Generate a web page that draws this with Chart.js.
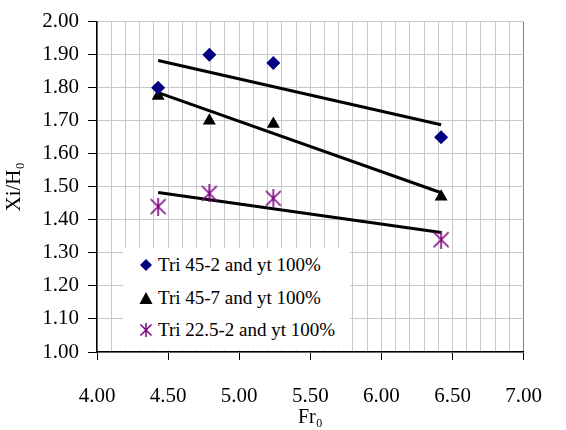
<!DOCTYPE html>
<html>
<head>
<meta charset="utf-8">
<script src="https://cdn.jsdelivr.net/npm/chart.js@4.4.0/dist/chart.umd.min.js"></script>
<style>
  body { margin: 0; background: #fff; }
  #wrap { position: relative; width: 566px; height: 430px; }
  #legendBox {
    position: absolute; left: 123px; top: 248px; width: 227px; height: 102px;
    background: #fff; font-family: 'Liberation Serif', serif;
    font-size: 19px; color: #000;
  }
  .item { position: absolute; left: 0; height: 24px; line-height: 24px; white-space: nowrap; }
  .item svg { position: absolute; left: 16px; top: 5px; }
  .item span { position: absolute; left: 35px; top: 0; }
</style>
</head>
<body>
<div id="wrap">
  <canvas id="chart" width="566" height="430"></canvas>
  <div id="legendBox"></div>
</div>
<script>
// data
const frValues = [4.43, 4.79, 5.24, 6.42];
const tri452 = [1.80, 1.90, 1.875, 1.65];
const tri457 = [1.775, 1.70, 1.69, 1.47];
const tri2252 = [1.44, 1.48, 1.465, 1.34];

// trend line end points
const trendX = [4.43, 6.42];
const trend452 = [1.882, 1.688];
const trend457 = [1.785, 1.482];
const trend2252 = [1.483, 1.362];

const seriesNames = ["Tri 45-2 and yt 100%", "Tri 45-7 and yt 100%", "Tri 22.5-2 and yt 100%"];

const navy = "#000080";
const purple = "#800080";
const font = "'Liberation Serif', serif";

Chart.defaults.font.family = font;
Chart.defaults.color = "#000";

// asterisk marker like the spreadsheet one
function starMarker(size, color) {
  const c = document.createElement("canvas");
  c.width = size; c.height = size;
  const g = c.getContext("2d");
  g.strokeStyle = color;
  g.lineWidth = 1.6;
  const m = 1.5, s = size - 1.5;
  g.beginPath();
  g.moveTo(m, m); g.lineTo(s, s);
  g.moveTo(s, m); g.lineTo(m, s);
  g.moveTo(size / 2, 0); g.lineTo(size / 2, size);
  g.stroke();
  return c;
}

const toPoints = (xs, ys) => xs.map((x, i) => ({ x: x, y: ys[i] }));

function trend(ys) {
  return {
    type: "line",
    data: toPoints(trendX, ys),
    borderColor: "#000",
    borderWidth: 3,
    pointRadius: 0,
    fill: false
  };
}

const ctx = document.getElementById("chart").getContext("2d");

new Chart(ctx, {
  type: "scatter",
  data: {
    datasets: [
      { label: seriesNames[0], data: toPoints(frValues, tri452), pointStyle: "rectRot", pointRadius: 7,
        backgroundColor: navy, borderColor: navy, borderWidth: 0 },
      { label: seriesNames[1], data: toPoints(frValues, tri457), pointStyle: "triangle", pointRadius: 7.5,
        backgroundColor: "#000", borderColor: "#000", borderWidth: 0 },
      { label: seriesNames[2], data: toPoints(frValues, tri2252), pointStyle: starMarker(18, purple), pointRadius: 9 },
      trend(trend452),
      trend(trend457),
      trend(trend2252)
    ]
  },
  options: {
    responsive: false,
    animation: false,
    layout: { padding: { left: 0, right: 23, top: 21, bottom: 0 } },
    plugins: { legend: { display: false }, tooltip: { enabled: false } },
    scales: {
      x: {
        type: "linear",
        min: 4, max: 7,
        afterFit: (s) => { s.height = 78; },
        border: { color: "#000", width: 1.5 },
        grid: {
          color: (c) => (c.index === 30 ? "#808080" : "#c8c8c8"),
          lineWidth: 1,
          tickLength: 8,
          tickColor: (c) => (c.tick && Math.round(c.tick.value * 10) % 5 === 0 ? "#000" : "rgba(0,0,0,0)")
        },
        ticks: {
          stepSize: 0.1,
          autoSkip: false,
          maxRotation: 0,
          padding: 24,
          color: "#000",
          font: { family: font, size: 21 },
          callback: (v) => (Math.round(v * 10) % 5 === 0 ? Number(v).toFixed(2) : "")
        },
        title: {
          display: true,
          text: "Fr₀",
          color: "#000",
          font: { family: font, size: 20 },
          padding: { top: 0, bottom: 0 }
        }
      },
      y: {
        min: 1, max: 2,
        afterFit: (s) => { s.width = 97; },
        border: { color: "#000", width: 1.5 },
        grid: { color: "#c8c8c8", lineWidth: 1, tickLength: 9, tickColor: "#000" },
        ticks: {
          stepSize: 0.1,
          autoSkip: false,
          padding: 9,
          color: "#000",
          font: { family: font, size: 21 },
          callback: (v) => Number(v).toFixed(2)
        },
        title: {
          display: true,
          text: "Xi/H₀",
          color: "#000",
          font: { family: font, size: 21 },
          padding: { top: 2, bottom: 0 }
        }
      }
    }
  }
});

// legend inside the plot, drawn as html
const legendBox = document.getElementById("legendBox");
const marks = [
  '<svg width="14" height="14"><polygon points="7,1 13,7 7,13 1,7" fill="' + navy + '"/></svg>',
  '<svg width="14" height="14"><polygon points="7,1 13.5,13 0.5,13" fill="#000"/></svg>',
  '<svg width="14" height="14"><path d="M1.5,1.5 L12.5,12.5 M12.5,1.5 L1.5,12.5 M7,0 L7,14" stroke="' + purple + '" stroke-width="1.5"/></svg>'
];
const rowTops = [5, 38, 70];
seriesNames.forEach((name, i) => {
  const row = document.createElement("div");
  row.className = "item";
  row.style.top = rowTops[i] + "px";
  row.innerHTML = marks[i] + "<span>" + name + "</span>";
  legendBox.appendChild(row);
});
</script>
</body>
</html>
